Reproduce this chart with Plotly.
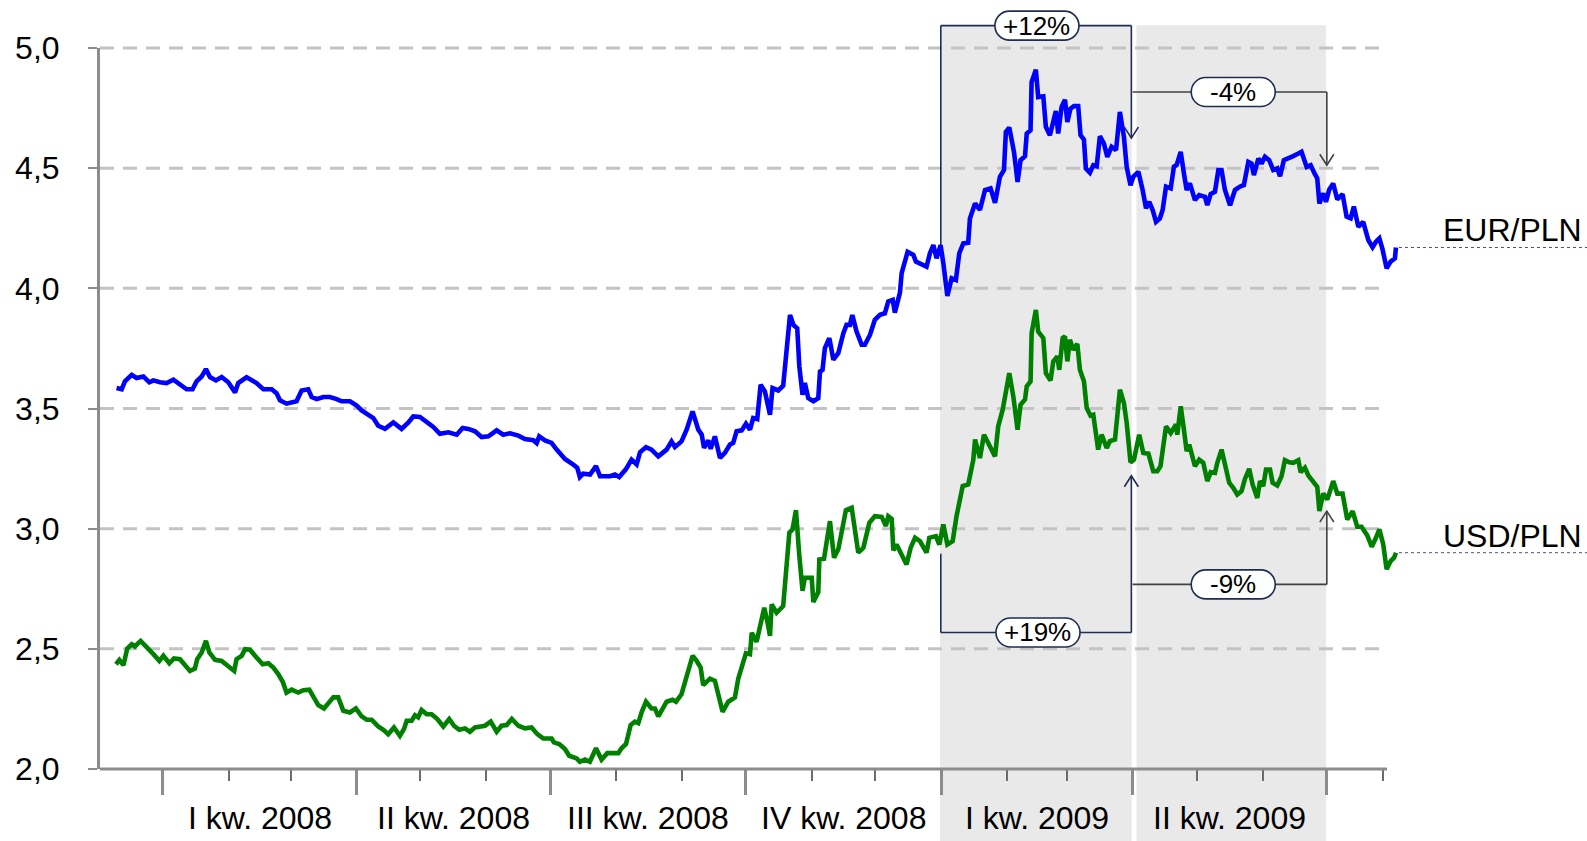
import pandas as pd
import plotly.graph_objects as go

# ---------------- data (days since 2008-01-01, value in PLN) ----------------
BASE = pd.Timestamp("2008-01-01")

eur_days = [-21.8, -19.4, -17.9, -14.7, -12.4, -9.2, -6.4, -4.5, -1.4, 1.7, 4.9, 8.0, 11.1, 13.9, 15.8,
            18.2, 20.2, 22.1, 24.9, 27.6, 30.7, 33.9, 35.4, 39.3, 44.0, 47.2, 51.1, 53.4, 55.0, 58.1,
            61.0, 62.8, 65.2, 68.3, 69.9, 72.3, 75.4, 78.5, 81.7, 84.0, 87.9, 91.1, 93.4, 95.8, 98.9,
            101.2, 104.4, 108.3, 112.2, 115.4, 117.7, 120.8, 124.0, 127.1, 130.2, 134.2, 138.1, 140.9,
            143.6, 146.7, 149.8, 153.0, 156.9, 160.0, 163.2, 167.1, 170.2, 174.1, 175.7,
            176.9, 179.6, 182.7, 185.1, 189.0, 192.9, 194.8, 196.0, 197.6, 200.8, 203.6, 205.5, 210.2,
            212.5, 214.5, 217.7, 220.3, 222.7, 224.3, 227.1, 229.7, 232.9, 236.8, 239.1, 240.7, 243.8,
            246.2, 249.0, 251.7, 253.3, 254.4, 256.4, 257.5, 259.5, 261.9, 264.2, 266.6, 268.1, 269.7,
            272.1, 274.1, 276.0, 277.5, 279.4, 281.0, 283.0, 285.4, 286.6, 289.3, 291.6, 294.8, 296.4,
            298.2, 299.2, 300.7, 301.8, 303.4, 305.8, 308.1, 308.9, 310.1, 311.2, 313.3, 315.2, 317.5,
            319.9, 321.4, 323.0, 324.1, 326.1, 328.5, 330.0, 332.4, 334.7, 337.1, 339.4, 341.0, 343.1,
            344.1, 346.5, 347.3, 350.1, 352.8, 354.0, 355.9, 359.0, 360.6, 362.2, 363.7, 365.6, 366.9,
            368.8, 370.8, 372.8, 374.4, 376.3, 378.6, 379.4, 381.8, 384.1, 386.5, 389.1, 391.2, 393.5,
            395.4, 396.3, 397.9, 400.1, 401.8, 403.2, 405.3, 406.1, 407.9, 408.4, 410.4, 411.5, 413.9,
            415.1, 417.0, 418.6, 419.8, 420.9, 422.5, 424.1, 425.2, 426.7, 428.3, 430.3, 431.4, 433.0,
            433.9, 435.8, 437.4, 439.0, 440.5, 442.4, 444.0, 446.0, 448.1, 449.9, 451.8, 453.1, 454.9,
            456.2, 458.6, 460.6, 462.2, 463.7, 465.3, 466.9, 468.7, 470.0, 471.6, 473.8, 475.3, 476.6,
            478.5, 480.0, 481.3, 482.8, 485.2, 487.2, 489.9, 491.0, 492.6, 494.6, 496.2, 497.7, 499.3,
            501.7, 504.0, 506.3, 508.2, 510.3, 511.8, 512.9, 515.0, 516.5, 518.1, 520.1, 522.0, 523.9,
            525.2, 527.0, 529.5, 531.4, 533.8, 535.3, 537.7, 539.6, 541.6, 542.7, 543.7, 545.5, 546.8,
            548.3, 550.2, 552.1, 554.6, 556.5, 558.4, 559.9, 562.0, 564.3, 566.7, 568.7, 570.3, 571.9,
            573.4, 575.3, 577.2, 579.2, 579.7]
eur_vals = [3.585, 3.580, 3.613, 3.640, 3.627, 3.633, 3.609, 3.617, 3.609, 3.606, 3.620, 3.599, 3.580, 3.580, 3.613,
            3.633, 3.664, 3.631, 3.617, 3.631, 3.609, 3.567, 3.606, 3.630, 3.606, 3.580, 3.580, 3.564, 3.534, 3.520,
            3.525, 3.530, 3.575, 3.580, 3.548, 3.539, 3.548, 3.548, 3.539, 3.530, 3.530, 3.512, 3.492, 3.478, 3.460,
            3.428, 3.415, 3.442, 3.415, 3.442, 3.467, 3.465, 3.446, 3.423, 3.395, 3.401, 3.391, 3.419,
            3.415, 3.405, 3.381, 3.384, 3.409, 3.391, 3.397, 3.387, 3.373, 3.368, 3.356,
            3.384, 3.367, 3.357, 3.329, 3.290, 3.267, 3.253, 3.215, 3.229, 3.225, 3.260, 3.218, 3.218,
            3.225, 3.215, 3.248, 3.287, 3.267, 3.318, 3.339, 3.329, 3.301, 3.329, 3.363, 3.340, 3.363,
            3.412, 3.488, 3.412, 3.391, 3.336, 3.367, 3.332, 3.384, 3.294, 3.315, 3.350, 3.357, 3.405,
            3.409, 3.437, 3.412, 3.460, 3.456, 3.599, 3.571, 3.474, 3.585, 3.575, 3.595, 3.889, 3.848,
            3.834, 3.675, 3.557, 3.606, 3.543, 3.530, 3.543, 3.654, 3.661, 3.751, 3.793, 3.703, 3.730,
            3.813, 3.848, 3.848, 3.889, 3.820, 3.765, 3.765, 3.806, 3.869, 3.890, 3.896, 3.945, 3.952,
            3.899, 3.982, 4.063, 4.152, 4.139, 4.111, 4.101, 4.090, 4.146, 4.180, 4.125, 4.180, 4.104,
            3.968, 4.042, 4.035, 4.146, 4.187, 4.190, 4.291, 4.353, 4.326, 4.409, 4.416, 4.356, 4.464,
            4.492, 4.651, 4.669, 4.568, 4.443, 4.533, 4.550, 4.644, 4.658, 4.858, 4.910, 4.796, 4.799,
            4.672, 4.637, 4.699, 4.738, 4.644, 4.755, 4.785, 4.692, 4.748, 4.758, 4.758, 4.637, 4.619,
            4.499, 4.481, 4.512, 4.508, 4.633, 4.602, 4.547, 4.589, 4.575, 4.734, 4.630, 4.505, 4.429,
            4.464, 4.485, 4.409, 4.333, 4.360, 4.326, 4.277, 4.291, 4.326, 4.423, 4.416, 4.506, 4.513,
            4.568, 4.478, 4.409, 4.437, 4.367, 4.388, 4.381, 4.346, 4.392, 4.402, 4.492, 4.492, 4.409,
            4.346, 4.409, 4.423, 4.430, 4.526, 4.519, 4.471, 4.540, 4.519, 4.547, 4.533, 4.492, 4.499,
            4.467, 4.533, 4.540, 4.550, 4.561, 4.568, 4.505, 4.512, 4.475, 4.457, 4.353, 4.395, 4.360,
            4.410, 4.436, 4.370, 4.392, 4.298, 4.291, 4.340, 4.256, 4.277, 4.201, 4.171, 4.194, 4.208,
            4.162, 4.083, 4.111, 4.125, 4.170]

usd_days = [-22.1, -20.5, -18.6, -16.8, -14.7, -13.2, -10.5, -7.7, -4.5, -1.7, 0.2, 3.0, 5.2, 8.0, 10.3,
            12.7, 15.0, 16.1, 18.2, 20.2, 21.8, 24.5, 27.6, 30.7, 33.5, 34.6, 37.0, 38.6, 40.9, 44.0,
            46.9, 49.5, 51.9, 54.2, 56.3, 58.1, 60.5, 63.6, 66.0, 68.8, 70.7, 73.0, 75.7, 78.5, 80.1,
            82.4, 84.8, 87.9, 90.7, 93.4, 95.8, 98.1, 101.2, 103.6, 105.9, 108.6, 111.4, 113.3, 114.6,
            116.9, 118.5, 120.0, 121.6, 124.0, 126.3, 129.0, 131.8, 134.6, 136.8, 139.3, 142.0, 144.3,
            146.7, 149.4, 151.4, 154.1, 156.9, 159.2, 161.6, 164.0, 167.1, 170.2, 173.3, 176.0, 178.8,
            182.7, 183.8, 186.3, 189.0, 191.0, 194.5, 196.0, 198.4, 200.7, 203.6, 206.2, 208.9, 214.1,
            215.6, 217.7, 219.9, 221.9, 223.5, 225.0, 227.1, 229.7, 231.3, 232.9, 236.8, 239.6, 241.2,
            243.8, 246.2, 249.0, 250.9, 252.8, 254.0, 257.2, 259.5, 261.1, 263.1, 265.8, 268.9, 270.5,
            273.2, 274.1, 276.0, 276.8, 279.1, 281.0, 282.7, 284.1, 285.4, 286.2, 288.5, 291.6, 293.2,
            294.5, 296.0, 297.6, 299.2, 300.7, 301.8, 305.0, 305.8, 308.1, 308.6, 310.8, 313.6, 315.5,
            317.5, 319.1, 321.1, 323.8, 324.9, 326.9, 329.3, 332.1, 334.7, 337.9, 339.9, 341.0, 342.6,
            343.4, 344.9, 347.3, 349.6, 351.5, 353.6, 355.9, 359.0, 360.3, 363.4, 365.0, 366.9, 368.8,
            371.3, 373.1, 376.0, 378.6, 381.0, 381.8, 384.1, 386.0, 388.8, 391.2, 392.7, 394.8, 397.9,
            399.8, 401.8, 403.2, 405.3, 406.1, 407.9, 408.4, 410.4, 411.5, 413.9, 415.1, 417.3, 418.6,
            420.5, 421.4, 423.0, 424.1, 425.2, 426.4, 428.0, 429.9, 431.1, 433.0, 434.3, 436.1, 437.4,
            438.6, 439.7, 441.3, 443.7, 445.2, 447.6, 449.9, 451.8, 453.1, 454.9, 456.5, 459.0, 460.9,
            463.3, 465.6, 467.5, 469.0, 471.6, 473.8, 476.3, 476.9, 478.5, 480.0, 481.3, 482.5, 485.2,
            487.2, 489.1, 491.0, 492.6, 494.6, 495.7, 497.7, 499.3, 501.3, 503.2, 505.1, 507.1, 508.7,
            510.7, 512.3, 514.5, 515.8, 517.3, 518.6, 520.5, 521.7, 523.9, 525.9, 527.5, 529.5, 531.4,
            533.8, 534.9, 536.9, 538.5, 540.8, 542.7, 543.7, 545.5, 547.4, 550.2, 552.1, 554.6, 556.8,
            559.3, 561.5, 563.5, 566.2, 568.3, 570.3, 571.9, 573.7, 575.3, 577.2, 578.8, 579.7]
usd_vals = [2.436, 2.454, 2.432, 2.501, 2.519, 2.510, 2.533, 2.510, 2.478, 2.450, 2.471, 2.440, 2.460, 2.457, 2.436,
            2.408, 2.418, 2.457, 2.485, 2.533, 2.485, 2.454, 2.450, 2.426, 2.408, 2.457, 2.471, 2.498, 2.496, 2.464,
            2.436, 2.440, 2.422, 2.395, 2.363, 2.318, 2.330, 2.318, 2.328, 2.330, 2.298, 2.266, 2.252, 2.280, 2.298,
            2.298, 2.242, 2.235, 2.252, 2.219, 2.205, 2.205, 2.177, 2.163, 2.145, 2.173, 2.138, 2.166, 2.201,
            2.201, 2.224, 2.215, 2.246, 2.228, 2.228, 2.208, 2.177, 2.208, 2.180, 2.163, 2.169, 2.155,
            2.173, 2.177, 2.180, 2.197, 2.155, 2.180, 2.183, 2.208, 2.180, 2.169, 2.173, 2.145, 2.127,
            2.127, 2.111, 2.104, 2.083, 2.055, 2.044, 2.030, 2.039, 2.030, 2.086, 2.039, 2.066, 2.066,
            2.086, 2.104, 2.183, 2.197, 2.191, 2.235, 2.280, 2.252, 2.252, 2.219, 2.280, 2.288, 2.280,
            2.311, 2.381, 2.471, 2.450, 2.422, 2.349, 2.376, 2.367, 2.304, 2.238, 2.280, 2.298, 2.376,
            2.446, 2.482, 2.478, 2.567, 2.529, 2.616, 2.671, 2.616, 2.554, 2.685, 2.650, 2.678, 2.872,
            2.983, 2.997, 3.077, 2.886, 2.741, 2.796, 2.796, 2.695, 2.736, 2.872, 2.875, 3.031, 2.879,
            2.914, 2.997, 3.077, 3.087, 3.011, 2.900, 2.920, 3.024, 3.052, 3.049, 3.011, 3.052, 3.041,
            2.910, 2.934, 2.886, 2.851, 2.920, 2.962, 2.948, 2.900, 2.962, 2.969, 2.934, 3.017, 2.934,
            2.948, 3.052, 3.177, 3.184, 3.287, 3.371, 3.294, 3.391, 3.340, 3.301, 3.426, 3.495, 3.647,
            3.550, 3.412, 3.516, 3.537, 3.592, 3.613, 3.813, 3.910, 3.820, 3.793, 3.647, 3.617, 3.696,
            3.717, 3.661, 3.793, 3.800, 3.696, 3.786, 3.744, 3.769, 3.661, 3.613, 3.502, 3.470, 3.474,
            3.384, 3.329, 3.391, 3.336, 3.364, 3.371, 3.578, 3.523, 3.440, 3.276, 3.287, 3.391, 3.315,
            3.312, 3.239, 3.239, 3.260, 3.426, 3.398, 3.433, 3.391, 3.509, 3.412, 3.322, 3.350, 3.260,
            3.287, 3.274, 3.198, 3.235, 3.232, 3.274, 3.329, 3.260, 3.191, 3.170, 3.142, 3.156, 3.207,
            3.249, 3.184, 3.128, 3.198, 3.177, 3.246, 3.246, 3.191, 3.180, 3.218, 3.285, 3.276, 3.274,
            3.285, 3.235, 3.253, 3.221, 3.193, 3.174, 3.073, 3.146, 3.121, 3.198, 3.146, 3.146, 3.038,
            3.073, 3.008, 3.008, 2.972, 2.925, 2.962, 2.997, 2.935, 2.831, 2.865, 2.879, 2.900]

series_names = ["EUR/PLN", "USD/PLN"]
y_ticks = [2.0, 2.5, 3.0, 3.5, 4.0, 4.5, 5.0]
quarter_starts = ["2008-01-01", "2008-04-01", "2008-07-01", "2008-10-01",
                  "2009-01-01", "2009-04-01", "2009-07-01"]
quarter_labels = ["I kw. 2008", "II kw. 2008", "III kw. 2008", "IV kw. 2008",
                  "I kw. 2009", "II kw. 2009"]
month_ticks = ["2008-02-01", "2008-03-01", "2008-05-01", "2008-06-01", "2008-08-01",
               "2008-09-01", "2008-11-01", "2008-12-01", "2009-02-01", "2009-03-01",
               "2009-05-01", "2009-06-01", "2009-07-27 14:00"]
change_labels = ["+12%", "-4%", "+19%", "-9%"]

# ---------------- styling / layout helpers ----------------
FONT = "Liberation Sans, Arial, sans-serif"
AX = "#8c8c8c"
NAVY = "#1f2d52"
DGRAY = "#404040"
SHADE = "#e9e9e9"
Y_MIN, Y_MAX = 2.0, 5.0
X_RANGE_DAYS = (-29.6, 581.6)
AXIS_END_DAY = 575.5


def day(d):
    return (BASE + pd.Timedelta(days=d)).strftime("%Y-%m-%d %H:%M:%S")


def vp(v):
    return (v - Y_MIN) / (Y_MAX - Y_MIN)


def pill_path(w, h):
    r = h / 2.0
    a = w / 2.0 - r
    k = 0.5523 * r
    return (f"M {-a},{r} L {a},{r} C {a + k},{r} {a + r},{k} {a + r},0 "
            f"C {a + r},{-k} {a + k},{-r} {a},{-r} L {-a},{-r} "
            f"C {-a - k},{-r} {-a - r},{-k} {-a - r},0 C {-a - r},{k} {-a - k},{r} {-a},{r} Z")


fig = go.Figure()
fig.add_trace(go.Scatter(x=[BASE + pd.Timedelta(days=d) for d in eur_days], y=eur_vals,
                         mode="lines", name=series_names[0],
                         line=dict(color="#0000ff", width=4.6), hoverinfo="skip"))
fig.add_trace(go.Scatter(x=[BASE + pd.Timedelta(days=d) for d in usd_days], y=usd_vals,
                         mode="lines", name=series_names[1],
                         line=dict(color="#008000", width=4.6), hoverinfo="skip"))

shapes = []
annotations = []

# shaded quarters (I kw. 2009, II kw. 2009)
for d0, d1 in [(365.3, 455.4), (457.7, 546.8)]:
    shapes.append(dict(type="rect", xref="x", yref="paper", x0=day(d0), x1=day(d1),
                       y0=-0.12, y1=1.0315, fillcolor=SHADE, line=dict(width=0), layer="below"))

# dashed gridlines
for v in y_ticks[1:]:
    shapes.append(dict(type="line", xref="x", yref="paper", x0=day(X_RANGE_DAYS[0]),
                       x1=day(AXIS_END_DAY), y0=vp(v), y1=vp(v),
                       line=dict(color="#c3c3c3", width=3, dash="14px,9px"), layer="below"))

# x-axis line
shapes.append(dict(type="line", xref="x", yref="paper", x0=day(X_RANGE_DAYS[0]),
                   x1=day(AXIS_END_DAY), y0=0, y1=0, line=dict(color=AX, width=3), layer="above"))

# brackets with change labels
brackets = [
    dict(label=change_labels[0], color=NAVY, head="down",
         pts=[(365.7, 4.18), (365.7, 5.093), (455.3, 5.093), (455.3, 4.625)], box=(410.9, 5.093)),
    dict(label=change_labels[1], color=DGRAY, head="down",
         pts=[(455.9, 4.817), (547.2, 4.817), (547.2, 4.512)], box=(503.2, 4.817)),
    dict(label=change_labels[2], color=NAVY, head="up",
         pts=[(365.7, 2.896), (365.7, 2.568), (455.3, 2.568), (455.3, 3.22)], box=(411.4, 2.568)),
    dict(label=change_labels[3], color=DGRAY, head="up",
         pts=[(455.9, 2.768), (547.2, 2.768), (547.2, 3.073)], box=(503.2, 2.768)),
]
for b in brackets:
    pts = b["pts"]
    for (xa, ya), (xb, yb) in zip(pts[:-1], pts[1:]):
        shapes.append(dict(type="line", xref="x", yref="paper", x0=day(xa), x1=day(xb),
                           y0=vp(ya), y1=vp(yb), line=dict(color=b["color"], width=1.6),
                           layer="above"))
    tx, ty = pts[-1]
    arm = "11" if b["head"] == "down" else "-11"
    shapes.append(dict(type="path", xref="x", yref="paper", xsizemode="pixel", ysizemode="pixel",
                       xanchor=day(tx), yanchor=vp(ty), path=f"M -7,{arm} L 0,0 L 7,{arm}",
                       line=dict(color=b["color"], width=1.6), layer="above"))
    bx, by = b["box"]
    shapes.append(dict(type="path", xref="x", yref="paper", xsizemode="pixel", ysizemode="pixel",
                       xanchor=day(bx), yanchor=vp(by), path=pill_path(84, 29),
                       fillcolor="white", line=dict(color=NAVY, width=1.6), layer="above"))
    annotations.append(dict(x=day(bx), y=vp(by), xref="x", yref="paper", text=b["label"],
                            showarrow=False, xanchor="center", yanchor="middle",
                            font=dict(size=26, color="black", family=FONT)))

# series end labels with dotted leaders
for name, last in [(series_names[0], eur_vals[-1]), (series_names[1], usd_vals[-1])]:
    shapes.append(dict(type="line", xref="paper", yref="y", x0=0.9992, x1=1.1438, y0=last, y1=last,
                       line=dict(color="#44546a", width=1, dash="dot"), layer="above"))
    annotations.append(dict(x=1.1415, y=last, xref="paper", yref="y", text=name, showarrow=False,
                            xanchor="right", yanchor="middle", yshift=17,
                            font=dict(size=32, color="black", family=FONT)))

# quarter labels
qs = [pd.Timestamp(q) for q in quarter_starts]
for lab, a, b in zip(quarter_labels, qs[:-1], qs[1:]):
    annotations.append(dict(x=a + (b - a) / 2, y=-0.068, xref="x", yref="paper", text=lab,
                            showarrow=False, xanchor="center", yanchor="middle",
                            font=dict(size=32, color="black", family=FONT)))

fig.update_layout(
    width=1587, height=841,
    margin=dict(l=100, r=187, t=48, b=72),
    plot_bgcolor="white", paper_bgcolor="white",
    separators=", ", showlegend=False,
    font=dict(family=FONT, color="black"),
    shapes=shapes, annotations=annotations,
    xaxis=dict(type="date", range=[day(X_RANGE_DAYS[0]), day(X_RANGE_DAYS[1])],
               tickmode="array", tickvals=quarter_starts, showticklabels=False,
               ticks="outside", ticklen=25, tickwidth=2.5, tickcolor=AX,
               showgrid=False, zeroline=False, showline=False,
               minor=dict(tickmode="array", tickvals=month_ticks, ticks="outside",
                          ticklen=11, tickwidth=1.5, tickcolor="#6b6b6b", showgrid=False)),
    yaxis=dict(range=[Y_MIN, Y_MAX], tickmode="array", tickvals=y_ticks, tickformat=".1f",
               ticks="outside", ticklen=9, tickwidth=2, tickcolor=AX,
               showline=True, linecolor=AX, linewidth=3, showgrid=False, zeroline=False,
               tickfont=dict(size=32, color="black", family=FONT), ticklabelstandoff=22),
)

fig.write_html("out.html", config={"displayModeBar": False},
               post_script="document.body.style.margin='0';document.body.style.overflow='hidden';")
